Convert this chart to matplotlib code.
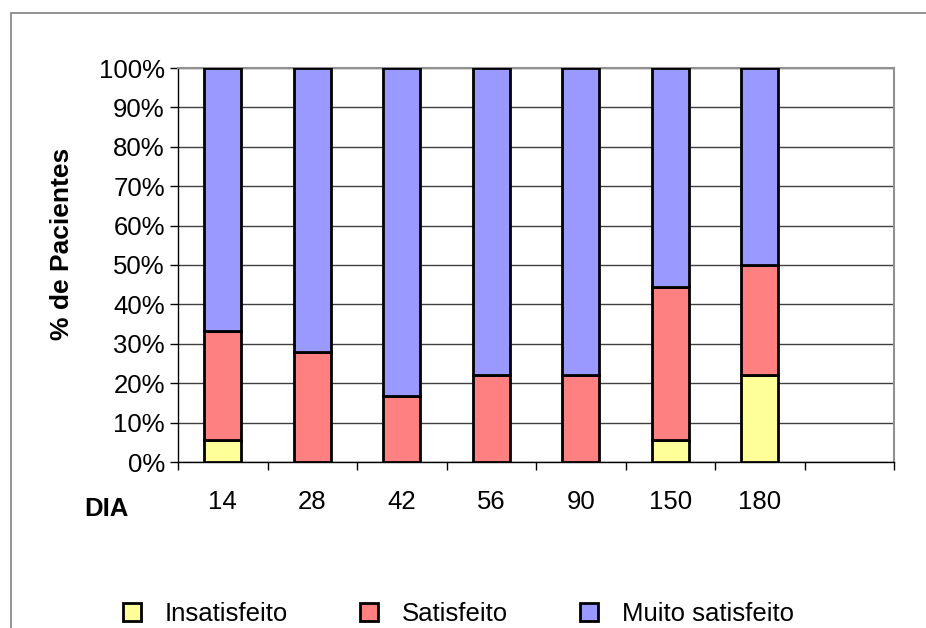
import matplotlib.pyplot as plt
import numpy as np
from matplotlib.patches import Rectangle

dias = ['14', '28', '42', '56', '90', '150', '180']
insatisfeito = [5.6, 0, 0, 0, 0, 5.6, 22.2]
satisfeito = [27.7, 27.8, 16.7, 22.2, 22.2, 38.8, 27.8]
muito = [66.7, 72.2, 83.3, 77.8, 77.8, 55.6, 50.0]

cores = ['#ffff99', '#ff8080', '#9999ff']
nomes = ['Insatisfeito', 'Satisfeito', 'Muito satisfeito']

plt.rcParams['font.family'] = ['Liberation Sans', 'DejaVu Sans']

fig = plt.figure(figsize=(9.26, 6.28), dpi=100)
# outer frame (only top and left visible in original)
fig.patches.append(Rectangle((10.5 / 926, -0.1), 1.1, 1 - 13.5 / 628 + 0.1,
                             transform=fig.transFigure, fill=False,
                             edgecolor='#808080', linewidth=1.2))

ax = fig.add_axes([178 / 926, 1 - 462 / 628, (894 - 178) / 926, (462 - 68) / 628])

x = np.arange(len(dias))
base = np.zeros(len(dias))
series = [insatisfeito, satisfeito, muito]
for vals, c, n in zip(series, cores, nomes):
    vals = np.array(vals)
    ax.bar(x, vals, 0.41, bottom=base, color=c, edgecolor='black',
           linewidth=2, label=n, zorder=3)
    base += vals

ax.set_xlim(-0.5, 7.5)
ax.set_ylim(0, 100)
ax.set_yticks(np.arange(0, 101, 10))
ax.set_yticklabels([f'{v}%' for v in range(0, 101, 10)], fontsize=18.5)
ax.set_xticks(np.arange(-0.5, 8, 1))
ax.set_xticklabels([])
ax.set_xticks(x, minor=True)
ax.set_xticklabels(dias, minor=True, fontsize=18.5)
ax.tick_params(axis='x', which='minor', length=0, pad=20)
ax.tick_params(axis='x', which='major', length=6, width=1, direction='out')
ax.tick_params(axis='y', length=6, width=1, direction='out', pad=3.5)
ax.yaxis.grid(True, color='#404040', linewidth=1, zorder=0)
ax.set_axisbelow(True)
for s in ['top', 'right']:
    ax.spines[s].set_color('#909090')
    ax.spines[s].set_linewidth(1.5)
for s in ['left', 'bottom']:
    ax.spines[s].set_color('black')
    ax.spines[s].set_linewidth(1)

# axis titles placed like the original (y title sits above the axis centre)
fig.text(62 / 926, 1 - 244 / 628, '% de Pacientes', fontsize=19,
         fontweight='bold', rotation=90, ha='center', va='center')
fig.text(106 / 926, 1 - 509 / 628, 'DIA', fontsize=18.5, fontweight='bold',
         ha='center', va='center')

leg = fig.legend(loc='center', bbox_to_anchor=(0.495, 1 - 614 / 628), ncol=3,
                 frameon=False, fontsize=18.5, handlelength=0.7, handleheight=0.7,
                 columnspacing=2.8, handletextpad=0.93, borderpad=0)
for h in leg.legend_handles:
    h.set_linewidth(2)

fig.savefig('out.png', dpi=100)
